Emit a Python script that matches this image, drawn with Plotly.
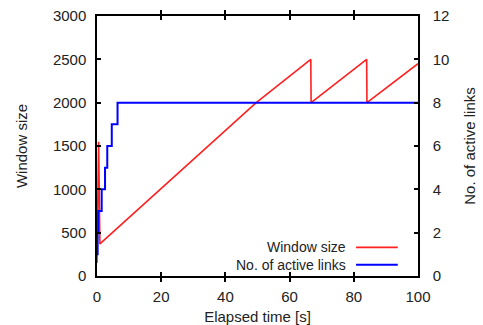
import plotly.graph_objects as go

# Window size (red)
win_t = [0.0, 0.35, 0.5, 0.9, 49.6, 66.6, 66.7, 84.0, 84.1, 100.0]
win_v = [150, 1550, 1550, 370, 2000, 2500, 2000, 2500, 2000, 2450]

# No. of active links (blue, step)
link_t = [0.0, 0.2, 0.4, 1.46, 2.5, 3.2, 4.6, 6.4, 100.0]
link_v = [1, 2, 3, 4, 5, 6, 7, 8, 8]

x_ticks = [0, 20, 40, 60, 80, 100]
y_ticks = [0, 500, 1000, 1500, 2000, 2500, 3000]
y2_ticks = [0, 2, 4, 6, 8, 10, 12]

FONT = "Liberation Sans"
FS = 15
TXT = "#222222"

fig = go.Figure()
fig.add_trace(go.Scatter(x=win_t, y=win_v, mode="lines", name="Window size",
                         line=dict(color="#ff2020", width=1.6), yaxis="y", showlegend=False))
fig.add_trace(go.Scatter(x=link_t, y=link_v, mode="lines", name="No. of active links",
                         line=dict(color="#0000ff", width=2, shape="hv"), yaxis="y2", showlegend=False))

axis_common = dict(showgrid=False, zeroline=False, showline=True, linecolor="black", linewidth=1.5,
                   ticks="inside", ticklen=4, tickwidth=1.5, tickcolor="black", automargin=False,
                   tickfont=dict(family=FONT, size=FS, color=TXT))

fig.update_layout(
    width=483, height=325,
    margin=dict(l=97, r=65, t=16, b=49),
    paper_bgcolor="white", plot_bgcolor="white",
    font=dict(family=FONT, size=FS, color=TXT),
    xaxis=dict(range=[0, 100], tickvals=x_ticks, mirror="allticks",
               title=dict(text="Elapsed time [s]", font=dict(family=FONT, size=FS, color=TXT), standoff=10),
               ticklabelstandoff=6, **axis_common),
    yaxis=dict(range=[0, 3000], tickvals=y_ticks,
               title=dict(text="Window size", font=dict(family=FONT, size=FS, color=TXT), standoff=22),
               ticklabelstandoff=6, **axis_common),
    yaxis2=dict(range=[0, 12], tickvals=y2_ticks, overlaying="y", side="right",
                title=dict(text="No. of active links", font=dict(family=FONT, size=FS, color=TXT), standoff=16),
                ticklabelstandoff=10, **axis_common),
)

# legend drawn manually (text right, sample on right)
legend_items = [("Window size", "#ff2020", 1.6, 0.110), ("No. of active links", "#0000ff", 2, 0.043)]
for label, color, w, yy in legend_items:
    fig.add_annotation(x=0.778, y=yy, xref="paper", yref="paper", text=label, showarrow=False,
                       xanchor="right", yanchor="middle", borderpad=0,
                       font=dict(family=FONT, size=14, color=TXT))
    fig.add_shape(type="line", xref="paper", yref="paper", x0=0.807, x1=0.937, y0=yy, y1=yy,
                  line=dict(color=color, width=w))

fig.write_html("out.html")
